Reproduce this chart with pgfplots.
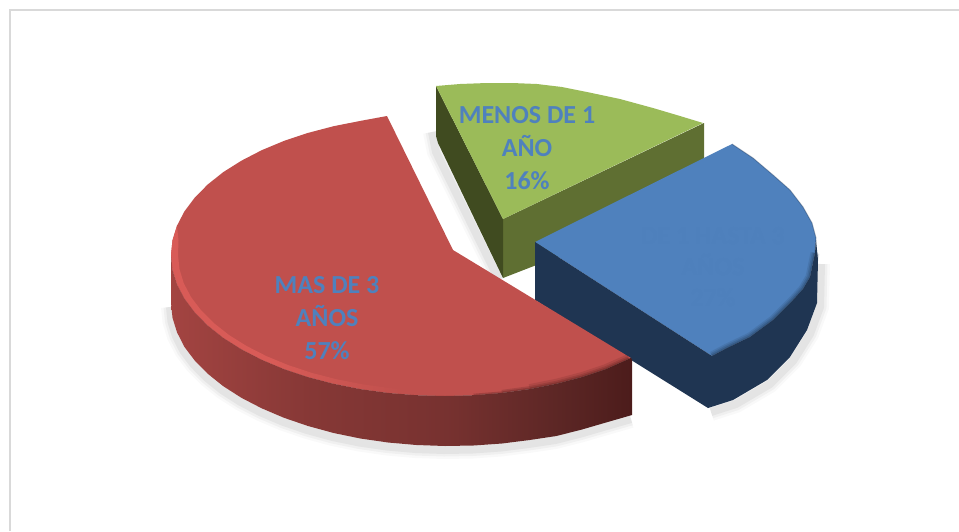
\documentclass[border=0pt]{standalone}
\usepackage{fontspec}
\setmainfont{Carlito}
\usepackage{pgfplots}
\pgfplotsset{compat=1.18}
\usepackage{pgfplotstable}

\definecolor{redface}{HTML}{C0504D}
\definecolor{redlight}{HTML}{D85B57}
\definecolor{reddark}{HTML}{4C1C1B}
\definecolor{blueface}{HTML}{4F81BD}
\definecolor{bluetext}{HTML}{4E80BC}
\definecolor{blueside}{HTML}{1F3552}
\definecolor{greenface}{HTML}{9BBB59}
\definecolor{greenleft}{HTML}{404B20}
\definecolor{greenright}{HTML}{5F6F32}
\definecolor{framegray}{HTML}{D9D9D9}

% side of the red slice, left to right
\pgfdeclarehorizontalshading{redside}{100bp}{
  color(0bp)=(redface!85!black);
  color(25bp)=(redface!85!black);
  color(40bp)=(redface!70!black);
  color(55bp)=(redface!62!black);
  color(67bp)=(redface!48!black);
  color(75bp)=(reddark);
  color(100bp)=(reddark)}
\pgfdeclarehorizontalshading{redbevel}{100bp}{
  color(0bp)=(redlight);
  color(25bp)=(redlight);
  color(40bp)=(redlight);
  color(60bp)=(redface);
  color(100bp)=(redface)}

% lower edge of the red slice
\pgfplotstableread{
x y
171 303
172.5 317.7
177 332.3
184.4 346.8
194.7 360.5
207.7 373.7
223.3 386.2
241.4 397.8
261.7 408.3
284 417.8
308 426
333.6 433
360.3 438.5
388 442.5
416.4 445
445 446
473.6 445.5
502 443.5
529.7 440
556.4 436
582 429.5
606 422.5
632 415
}\redlow
% rim of the blue slice
\pgfplotstableread{
x y
815 253
810 277
803 289
793 300
773 320
750 337
727 348
712 356
}\bluerim
\pgfplotstableread{
x y
818 260
817 303
807 330
790 357
767 380
733 400
708 408
}\bluelow
\pgfplotstableread{
x y
436 130
440 150
503 278
}\greenlow
% blur on the red rim, starting further right for the wider layers
\pgfplotstableread{
x y
473.6 395.2
502 392.9
529.7 389.1
556.4 383.8
582 377.1
606 369.1
629 359
}\redrimA
\pgfplotstableread{
x y
502 392.9
529.7 389.1
556.4 383.8
582 377.1
606 369.1
629 359
}\redrimB
\pgfplotstableread{
x y
529.7 389.1
556.4 383.8
582 377.1
606 369.1
629 359
}\redrimC

\tikzset{
  shA/.style={draw=black,opacity=0.025,line width=18pt},
  shB/.style={draw=black,opacity=0.035,line width=13pt},
  shC/.style={draw=black,opacity=0.05,line width=8pt},
}

\begin{document}
\begin{tikzpicture}
\begin{axis}[
    scale only axis,
    width=959pt,height=531pt,
    xmin=0,xmax=959,ymin=0,ymax=531,
    y dir=reverse,
    hide axis,
    clip=true,
  ]
  % keeps the whole axis area in the page
  \addplot[draw=none] coordinates {(0,0) (959,531)};
  % frame
  \addplot[draw=framegray,line width=2pt] coordinates {(10,531) (10,10) (959,10)};

  % soft shadows on the ground
  \addplot[shA,xshift=-1pt,yshift=-4pt] table {\redlow};
  \addplot[shB,xshift=-1pt,yshift=-4pt] table {\redlow};
  \addplot[shC,xshift=-1pt,yshift=-4pt] table {\redlow};
  \addplot[shA,xshift=3pt,yshift=-4pt] table {\bluelow};
  \addplot[shB,xshift=3pt,yshift=-4pt] table {\bluelow};
  \addplot[shC,xshift=3pt,yshift=-4pt] table {\bluelow};
  \addplot[shA,xshift=-4pt,yshift=-2pt] table {\greenlow};
  \addplot[shB,xshift=-4pt,yshift=-2pt] table {\greenlow};
  \addplot[shC,xshift=-4pt,yshift=-2pt] table {\greenlow};

  % green slice
  \addplot[fill=greenright,draw=none] coordinates {(503,219) (704,123) (704,200) (503,278)} --cycle;
  \addplot[fill=greenleft,draw=none] coordinates {(436,86) (503,219) (503,278) (438,143) (436,136)} --cycle;
  \addplot[fill=greenface,draw=none] coordinates {(436,86) (460,84) (487,83) (512,83) (537,84) (562,87) (587,92) (620,99) (653,108) (680,116) (703,123) (503,219)} --cycle;

  % blue slice
  \addplot[fill=blueface,draw=none] coordinates {(535,242) (732,144) (753,158) (773,175) (790,190) (803,207) (812,223) (816,238) (815,253) (810,277) (803,289) (793,300) (773,320) (750,337) (727,348) (712,356)} --cycle;
  \addplot[draw=blueside,opacity=0.14,line width=9pt] table {\bluerim};
  \addplot[draw=blueside,opacity=0.2,line width=6pt] table {\bluerim};
  \addplot[draw=blueside,opacity=0.28,line width=3pt] table {\bluerim};
  \addplot[draw=blueside,opacity=0.35,line width=1pt] coordinates {(732,144) (753,158) (773,175) (790,190) (803,207) (812,223) (816,238) (815,253)};
  \addplot[fill=blueside,draw=none] coordinates {(535,242) (712,356) (727,348) (750,337) (773,320) (793,300) (803,289) (810,277) (815,253) (816,240) (818,260) (817,303) (807,330) (790,357) (767,380) (733,400) (708,408) (535,300)} --cycle;

  % red slice, top
  \addplot[fill=redface,draw=none] coordinates {
    (453,250) (387,116) (360.3,120.9) (333.6,126.2) (308,132.9) (284,140.9)
    (261.7,150.2) (241.4,160.7) (223.3,172.1) (207.7,184.5) (194.7,197.7)
    (184.4,211.4) (177,225.7) (172.5,240.3) (171,255) (172.5,269.7) (177,284.3)
    (184.4,298.6) (194.7,312.3) (207.7,325.5) (223.3,337.9) (241.4,349.3)
    (261.7,359.8) (284,369.1) (308,377.1) (333.6,383.8) (360.3,389.1) (388,392.9)
    (416.4,395.2) (445,396) (473.6,395.2) (502,392.9) (529.7,389.1) (556.4,383.8)
    (582,377.1) (606,369.1) (631,358)} --cycle;
  % light bevel along the front left
  \addplot[shading=redbevel,draw=none] coordinates {
    (177,225.7) (172.5,240.3) (171,255) (172.5,269.7) (177,284.3) (184.4,298.6) (194.7,312.3)
    (207.7,325.5) (223.3,337.9) (241.4,349.3) (261.7,359.8) (284,369.1) (308,377.1)
    (333.6,383.8) (360.3,389.1) (388,392.9) (416.4,395.2) (445,396) (473.6,395.2) (502,392.9)
    (500.5,388) (473,390.2) (445,391) (417,390.2) (389.5,388) (362.5,384.3) (336.4,379.2)
    (311.5,372.8) (288,365) (266.4,356.1) (246.6,346) (229,335) (213.8,323) (201.1,310.3)
    (191,297) (183.8,283.3) (179.5,269.2) (178,255) (178.5,240.5)} --cycle;
  % dark blur along the front right
  \addplot[draw=reddark,opacity=0.14,line width=10pt] table {\redrimC};
  \addplot[draw=reddark,opacity=0.2,line width=6pt] table {\redrimB};
  \addplot[draw=reddark,opacity=0.28,line width=3pt] table {\redrimA};
  % red slice, side
  \addplot[shading=redside,draw=none] coordinates {
    (171,255) (172.5,269.7) (177,284.3) (184.4,298.6) (194.7,312.3) (207.7,325.5)
    (223.3,337.9) (241.4,349.3) (261.7,359.8) (284,369.1) (308,377.1) (333.6,383.8)
    (360.3,389.1) (388,392.9) (416.4,395.2) (445,396) (473.6,395.2) (502,392.9)
    (529.7,389.1) (556.4,383.8) (582,377.1) (606,369.1) (631,358) (632,360) (632,415)
    (606,422.5) (582,429.5) (556.4,436) (529.7,440) (502,443.5) (473.6,445.5) (445,446)
    (416.4,445) (388,442.5) (360.3,438.5) (333.6,433) (308,426) (284,417.8) (261.7,408.3)
    (241.4,397.8) (223.3,386.2) (207.7,373.7) (194.7,360.5) (184.4,346.8) (177,332.3)
    (172.5,317.7) (171,303)} --cycle;

  % labels
  \node[text=blueface,font=\fontsize{26}{33}\selectfont\bfseries,align=center,inner sep=0pt]
    at (axis cs:327,318) {MAS DE 3\\AÑOS\\57\%};
  \node[text=blueface,font=\fontsize{26}{33}\selectfont\bfseries,align=center,inner sep=0pt]
    at (axis cs:527,148) {MENOS DE 1\\AÑO\\16\%};
  \node[text=bluetext,font=\fontsize{26}{31}\selectfont\bfseries,align=center,inner sep=0pt]
    at (axis cs:713,267) {DE 1 HASTA 3\\AÑOS\\27\%};
\end{axis}
\end{tikzpicture}
\end{document}
